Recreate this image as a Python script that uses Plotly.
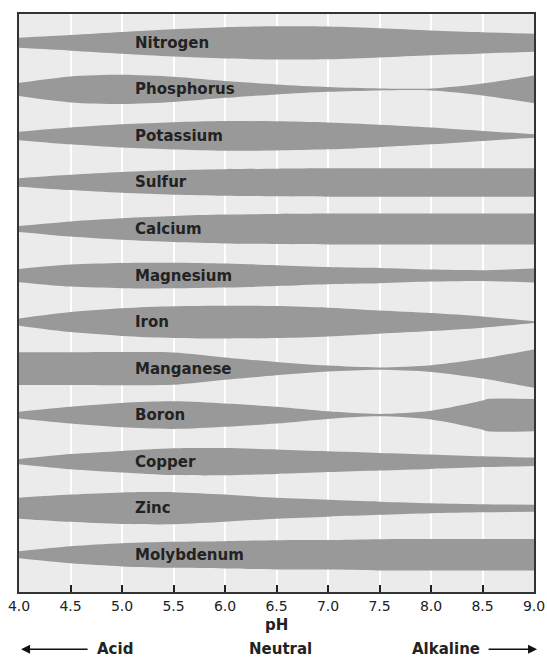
import plotly.graph_objects as go

PH = [4.0, 4.5, 5.0, 5.5, 6.0, 6.5, 7.0, 7.5, 8.0, 8.5, 9.0]
NUTRIENTS = ["Nitrogen", "Phosphorus", "Potassium", "Sulfur", "Calcium", "Magnesium",
             "Iron", "Manganese", "Boron", "Copper", "Zinc", "Molybdenum"]

# relative availability (band thickness) read at each pH
nitrogen = [0.25, 0.39, 0.54, 0.68, 0.78, 0.83, 0.82, 0.73, 0.62, 0.53, 0.45]
phosphorus = [0.33, 0.65, 0.73, 0.63, 0.42, 0.25, 0.12, 0.05, 0.05, 0.30, 0.69]
potassium = [0.21, 0.42, 0.58, 0.68, 0.74, 0.73, 0.67, 0.56, 0.42, 0.25, 0.09]
sulfur = [0.21, 0.38, 0.52, 0.61, 0.66, 0.69, 0.71, 0.71, 0.71, 0.71, 0.71]
calcium = [0.15, 0.38, 0.54, 0.65, 0.72, 0.75, 0.77, 0.78, 0.78, 0.78, 0.78]
magnesium = [0.33, 0.55, 0.63, 0.64, 0.60, 0.52, 0.43, 0.38, 0.30, 0.27, 0.35]
iron = [0.18, 0.50, 0.69, 0.79, 0.82, 0.80, 0.72, 0.58, 0.45, 0.28, 0.04]
manganese = [0.82, 0.82, 0.83, 0.81, 0.56, 0.33, 0.15, 0.06, 0.17, 0.50, 0.96]
BORON_PH = [4.0, 4.5, 5.0, 5.5, 6.0, 6.5, 7.0, 7.5, 8.0, 8.5, 8.55, 9.0]
boron = [0.17, 0.42, 0.61, 0.69, 0.58, 0.42, 0.19, 0.06, 0.22, 0.73, 0.81, 0.81]
copper = [0.13, 0.38, 0.54, 0.67, 0.68, 0.61, 0.52, 0.44, 0.36, 0.27, 0.21]
zinc = [0.52, 0.68, 0.79, 0.80, 0.68, 0.52, 0.42, 0.33, 0.25, 0.20, 0.18]
molybdenum = [0.18, 0.43, 0.58, 0.65, 0.68, 0.73, 0.74, 0.78, 0.79, 0.79, 0.79]

SERIES = [
    (PH, nitrogen), (PH, phosphorus), (PH, potassium), (PH, sulfur), (PH, calcium),
    (PH, magnesium), (PH, iron), (PH, manganese), (BORON_PH, boron), (PH, copper),
    (PH, zinc), (PH, molybdenum),
]

TICKS = [4.0, 4.5, 5.0, 5.5, 6.0, 6.5, 7.0, 7.5, 8.0, 8.5, 9.0]

HALF = 0.43  # half band height (in row units) for availability 1.0
BAND = "#999999"
FONT = "DejaVu Sans"
INK = "#222222"

fig = go.Figure()
for i, (xs, vals) in enumerate(SERIES):
    low = [i + HALF * v for v in vals]
    high = [i - HALF * v for v in vals]
    fig.add_trace(go.Scatter(x=xs, y=low, mode="lines",
                             line=dict(width=0, color=BAND, shape="spline", smoothing=0.8),
                             hoverinfo="skip", showlegend=False))
    fig.add_trace(go.Scatter(x=xs, y=high, mode="lines", fill="tonexty", fillcolor=BAND,
                             line=dict(width=0, color=BAND, shape="spline", smoothing=0.8),
                             hoverinfo="skip", showlegend=False))
    fig.add_annotation(x=0.221, xref="paper", y=i, yref="y", text=f"<b>{NUTRIENTS[i]}</b>",
                       showarrow=False, xanchor="left", yanchor="middle",
                       font=dict(family=FONT, size=15, color=INK))

# bottom labels
fig.add_annotation(x=0.5, xref="paper", y=-0.057, yref="paper", text="<b>pH</b>",
                   showarrow=False, xanchor="center", yanchor="middle",
                   font=dict(family=FONT, size=15, color=INK))
fig.add_annotation(x=0.148, xref="paper", y=-0.099, yref="paper", text="<b>Acid</b>",
                   showarrow=False, xanchor="left", yanchor="middle",
                   font=dict(family=FONT, size=15, color=INK))
fig.add_annotation(x=0.507, xref="paper", y=-0.099, yref="paper", text="<b>Neutral</b>",
                   showarrow=False, xanchor="center", yanchor="middle",
                   font=dict(family=FONT, size=15, color=INK))
fig.add_annotation(x=0.899, xref="paper", y=-0.099, yref="paper", text="<b>Alkaline</b>",
                   showarrow=False, xanchor="right", yanchor="middle",
                   font=dict(family=FONT, size=15, color=INK))
# arrows
fig.add_annotation(x=0.004, xref="paper", y=-0.099, yref="paper", text="",
                   showarrow=True, arrowhead=2, arrowsize=1.2, arrowwidth=1.5,
                   arrowcolor="#111111", ax=68, ay=0, standoff=0)
fig.add_annotation(x=1.006, xref="paper", y=-0.099, yref="paper", text="",
                   showarrow=True, arrowhead=2, arrowsize=1.2, arrowwidth=1.5,
                   arrowcolor="#111111", ax=-50, ay=0, standoff=0)

fig.update_xaxes(range=[4.0, 9.0], tickvals=TICKS, ticktext=[f"{t:.1f}" for t in TICKS],
                 ticks="inside", ticklen=7, tickwidth=1.5, tickcolor=INK,
                 showgrid=True, gridcolor="#ffffff", gridwidth=2,
                 showline=True, linecolor="#333333", linewidth=2, mirror=True,
                 tickfont=dict(family=FONT, size=14, color=INK),
                 zeroline=False, fixedrange=True, automargin=False)
fig.update_yaxes(range=[11.8, -0.62], showticklabels=False, ticks="", showgrid=False,
                 showline=True, linecolor="#333333", linewidth=2, mirror=True,
                 zeroline=False, fixedrange=True, automargin=False)

fig.update_layout(width=547, height=657, autosize=False,
                  margin=dict(l=19, r=13, t=14, b=65, autoexpand=False),
                  plot_bgcolor="#ebebeb", paper_bgcolor="#ffffff",
                  font=dict(family=FONT))

fig.write_html("out.html",
               config={"displayModeBar": False, "responsive": False},
               post_script="document.body.style.margin='0';document.body.style.overflow='hidden';")
